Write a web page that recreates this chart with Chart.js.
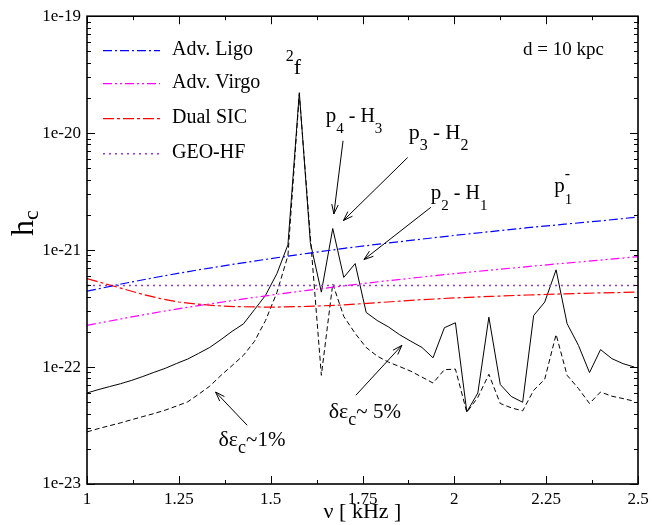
<!DOCTYPE html>
<html><head><meta charset="utf-8">
<script src="https://cdn.jsdelivr.net/npm/chart.js@4.4.1/dist/chart.umd.min.js"></script>
<style>html,body{margin:0;padding:0;background:#fff}#wrap{width:665px;height:525px}</style>
</head><body><div id="wrap"><canvas id="c" width="665" height="525"></canvas></div>
<script>
const SERIF = "'Liberation Serif', 'DejaVu Serif', serif";

// frequency grid of the spectra (kHz)
const freqKHz = [1.000,1.030,1.061,1.091,1.122,1.152,1.182,1.213,1.243,1.274,
                 1.304,1.334,1.365,1.395,1.426,1.456,1.486,1.517,1.547,1.578,
                 1.608,1.638,1.669,1.699,1.730,1.760,1.790,1.821,1.851,1.882,
                 1.912,1.942,1.973,2.003,2.034,2.064,2.094,2.125,2.155,2.186,
                 2.216,2.246,2.277,2.307,2.338,2.368,2.398,2.429,2.459,2.490];
// solid curve (delta eps_c ~ 5%)
const hcDelta5 = [6.0e-23,6.4e-23,6.8e-23,7.2e-23,7.7e-23,8.3e-23,9.0e-23,9.75e-23,1.07e-22,1.17e-22,
                  1.31e-22,1.47e-22,1.72e-22,2.02e-22,2.34e-22,3.1e-22,4.1e-22,6.3e-22,1.11e-21,2.22e-20,
                  1.16e-21,4.37e-22,1.53e-21,5.84e-22,7.67e-22,2.93e-22,2.5e-22,2.2e-22,1.89e-22,1.66e-22,
                  1.47e-22,1.2e-22,2.17e-22,2.39e-22,4.14e-23,6.0e-23,2.67e-22,7.1e-23,5.6e-23,5.0e-23,
                  2.76e-22,3.59e-22,6.78e-22,2.35e-22,1.53e-22,8.97e-23,1.41e-22,1.18e-22,1.07e-22,1.0e-22];
// dashed curve (delta eps_c ~ 1%)
const hcDelta1 = [2.79e-23,2.97e-23,3.15e-23,3.33e-23,3.55e-23,3.77e-23,4.0e-23,4.28e-23,4.63e-23,5.04e-23,
                  5.86e-23,6.86e-23,8.5e-23,1.03e-22,1.26e-22,1.66e-22,2.5e-22,4.34e-22,8.97e-22,2.15e-20,
                  1.3e-21,8.5e-23,5.15e-22,2.71e-22,1.94e-22,1.47e-22,1.24e-22,1.1e-22,1.01e-22,9.2e-23,
                  8.2e-23,7.3e-23,9.5e-23,9.6e-23,4.1e-23,5.5e-23,8.67e-23,4.88e-23,4.48e-23,4.22e-23,
                  6.33e-23,7.86e-23,1.9e-22,8.5e-23,6.55e-23,4.88e-23,6.12e-23,5.63e-23,5.38e-23,5.1e-23];

// detector sensitivity curves
const detFreq  = [1.0,1.1,1.2,1.3,1.4,1.5,1.6,1.7,1.8,1.9,2.0,2.1,2.2,2.3,2.4,2.5];
const advLigo  = [4.45e-22,5.18e-22,5.95e-22,6.75e-22,7.58e-22,8.46e-22,9.37e-22,1.035e-21,1.13e-21,1.23e-21,
                  1.335e-21,1.44e-21,1.555e-21,1.665e-21,1.78e-21,1.92e-21];
const advVirgo = [2.27e-22,2.61e-22,2.97e-22,3.34e-22,3.72e-22,4.12e-22,4.53e-22,4.95e-22,5.39e-22,5.83e-22,
                  6.29e-22,6.75e-22,7.23e-22,7.72e-22,8.22e-22,8.8e-22];
const sicFreq  = [1.0,1.05,1.1,1.15,1.2,1.25,1.3,1.35,1.4,1.5,1.6,1.7,1.8,1.9,2.0,2.1,2.2,2.3,2.4,2.5];
const dualSIC  = [5.7e-22,5.15e-22,4.65e-22,4.2e-22,3.85e-22,3.6e-22,3.45e-22,3.35e-22,3.29e-22,3.25e-22,
                  3.3e-22,3.4e-22,3.57e-22,3.75e-22,3.9e-22,4.02e-22,4.13e-22,4.23e-22,4.31e-22,4.37e-22];
const geoFreq  = [1.0,2.5];
const geoHF    = [4.98e-22,4.98e-22];

const seriesNames = ['Adv. Ligo','Adv. Virgo','Dual SIC','GEO-HF'];
const xTickValues = [1,1.25,1.5,1.75,2,2.25,2.5];
const yTickExps = [-23,-22,-21,-20,-19];

// annotation anchors in data coordinates (nu [kHz], h_c)
const arrows = [
  {from:[1.697,8.6e-21], to:[1.672,2.04e-21]},
  {from:[1.873,6.19e-21], to:[1.698,1.79e-21]},
  {from:[1.936,2.32e-21], to:[1.754,8.3e-22]},
  {from:[1.732,5.74e-23], to:[1.857,1.53e-22]},
  {from:[1.436,3.18e-23], to:[1.350,6.12e-23]}
];
const notes = [
  {at:[1.541,3.20e-20], parts:[['2',16,-13],['f',22,0]]},
  {at:[1.650,1.235e-20], parts:[['p',21,0],['4',15,11],[' - H',20,0],['3',15,11]]},
  {at:[1.876,8.93e-21], parts:[['p',22,0],['3',16,11],[' - H',21,0],['2',16,11]]},
  {at:[1.936,2.75e-21], parts:[['p',21,0],['2',15,11],[' - H',20,0],['1',15,11]]},
  {at:[2.272,3.13e-21], parts:[['p',21,0],['1',15,12,true],['-',16,-13]]},
  {at:[1.658,3.66e-23], parts:[['δε',22,0],['c',18,7],['~ 5%',21,0]]},
  {at:[1.358,2.11e-23], parts:[['δε',22,0],['c',18,7],['~1%',21,0]]},
  {at:[2.187,4.65e-20], parts:[['d = 10 kpc',19,0]]}
];

const pts = (xs, ys) => xs.map((x, i) => ({x: x, y: ys[i]}));

function drawRich(ctx, x, y, parts) {
  let cx = x;
  ctx.textBaseline = 'alphabetic';
  ctx.textAlign = 'left';
  for (const p of parts) {
    ctx.font = p[1] + 'px ' + SERIF;
    ctx.fillText(p[0], cx, y + p[2]);
    if (!p[3]) cx += ctx.measureText(p[0]).width;
  }
}

const decor = {
  id: 'decor',
  afterDatasetsDraw(chart) {
    const ctx = chart.ctx, a = chart.chartArea;
    const xs = chart.scales.x, ys = chart.scales.y;
    ctx.save();
    ctx.strokeStyle = '#000'; ctx.fillStyle = '#000';
    // frame
    ctx.lineWidth = 1.6;
    ctx.strokeRect(a.left, a.top, a.right - a.left, a.bottom - a.top);
    ctx.lineWidth = 1;
    // x ticks (major + minor), bottom and top, inward
    ctx.beginPath();
    for (let i = 0; i < xTickValues.length; i++) {
      const v = xTickValues[i];
      const px = Math.round(xs.getPixelForValue(v)) + 0.5;
      ctx.moveTo(px, a.bottom); ctx.lineTo(px, a.bottom - 8);
      ctx.moveTo(px, a.top); ctx.lineTo(px, a.top + 8);
      if (i < xTickValues.length - 1) {
        const m = Math.round(xs.getPixelForValue((v + xTickValues[i + 1]) / 2)) + 0.5;
        ctx.moveTo(m, a.bottom); ctx.lineTo(m, a.bottom - 4);
        ctx.moveTo(m, a.top); ctx.lineTo(m, a.top + 4);
      }
    }
    // y ticks
    for (const e of yTickExps) {
      const py = Math.round(ys.getPixelForValue(Math.pow(10, e))) + 0.5;
      ctx.moveTo(a.left, py); ctx.lineTo(a.left + 8, py);
      ctx.moveTo(a.right, py); ctx.lineTo(a.right - 8, py);
      if (e < yTickExps[yTickExps.length - 1]) {
        for (let m = 2; m <= 9; m++) {
          const q = Math.round(ys.getPixelForValue(m * Math.pow(10, e))) + 0.5;
          ctx.moveTo(a.left, q); ctx.lineTo(a.left + 4, q);
          ctx.moveTo(a.right, q); ctx.lineTo(a.right - 4, q);
        }
      }
    }
    ctx.stroke();

    // legend
    const rows = [34, 67, 102, 137];
    chart.data.datasets.forEach((ds, i) => {
      if (i >= 4) return;
      const y = a.top + rows[i] + 0.5;
      ctx.save();
      ctx.strokeStyle = ds.borderColor; ctx.lineWidth = ds.borderWidth;
      ctx.setLineDash(ds.borderDash || []);
      ctx.beginPath(); ctx.moveTo(a.left + 16, y); ctx.lineTo(a.left + 73, y); ctx.stroke();
      ctx.restore();
      ctx.font = '20px ' + SERIF; ctx.textBaseline = 'middle'; ctx.textAlign = 'left';
      ctx.fillText(ds.label, a.left + 85, y - 1);
    });

    // arrows
    ctx.lineWidth = 1;
    for (const ar of arrows) {
      const x1 = xs.getPixelForValue(ar.from[0]), y1 = ys.getPixelForValue(ar.from[1]);
      const x2 = xs.getPixelForValue(ar.to[0]), y2 = ys.getPixelForValue(ar.to[1]);
      const ang = Math.atan2(y2 - y1, x2 - x1), L = 10, w = 0.33;
      ctx.beginPath();
      ctx.moveTo(x1, y1); ctx.lineTo(x2, y2);
      ctx.moveTo(x2 - L * Math.cos(ang - w), y2 - L * Math.sin(ang - w));
      ctx.lineTo(x2, y2);
      ctx.lineTo(x2 - L * Math.cos(ang + w), y2 - L * Math.sin(ang + w));
      ctx.stroke();
    }
    // text notes
    for (const n of notes) {
      drawRich(ctx, xs.getPixelForValue(n.at[0]), ys.getPixelForValue(n.at[1]), n.parts);
    }
    // y-axis title h_c (rotated)
    ctx.save();
    ctx.translate(33, 236);
    ctx.rotate(-Math.PI / 2);
    drawRich(ctx, 0, 0, [['h', 32, 0], ['c', 22, 5]]);
    ctx.restore();
    ctx.restore();
  }
};

new Chart(document.getElementById('c'), {
  type: 'line',
  data: {
    datasets: [
      {label: seriesNames[0], data: pts(detFreq, advLigo), borderColor: '#0000ff', borderWidth: 1.2, borderDash: [9,3,2,3]},
      {label: seriesNames[1], data: pts(detFreq, advVirgo), borderColor: '#ff00ff', borderWidth: 1.2, borderDash: [9,3,2,3,2,3]},
      {label: seriesNames[2], data: pts(sicFreq, dualSIC), borderColor: '#ff0000', borderWidth: 1.2, borderDash: [11,3,3,3]},
      {label: seriesNames[3], data: pts(geoFreq, geoHF), borderColor: '#8a3fd0', borderWidth: 1.5, borderDash: [2,4]},
      {label: 'δε_c ~ 5%', data: pts(freqKHz, hcDelta5), borderColor: '#000', borderWidth: 1},
      {label: 'δε_c ~ 1%', data: pts(freqKHz, hcDelta1), borderColor: '#000', borderWidth: 1, borderDash: [5,3]}
    ]
  },
  options: {
    responsive: false, animation: false, devicePixelRatio: 1,
    elements: {point: {radius: 0}, line: {tension: 0, fill: false}},
    layout: {padding: {left: 0, right: 27, top: 15, bottom: 0}},
    plugins: {legend: {display: false}, tooltip: {enabled: false}},
    scales: {
      x: {
        type: 'linear', min: 1, max: 2.5,
        afterFit(s) { s.height = 41; },
        grid: {display: false, drawTicks: false}, border: {display: false},
        afterBuildTicks(s) { s.ticks = xTickValues.map(v => ({value: v})); },
        ticks: {color: '#000', font: {family: SERIF, size: 17}, padding: 5, maxRotation: 0, autoSkip: false,
                callback: v => String(+Number(v).toFixed(2))},
        title: {display: true, text: 'ν [ kHz ]', color: '#000', font: {family: SERIF, size: 22}, padding: {top: 0, bottom: 0}}
      },
      y: {
        type: 'logarithmic', min: 1e-23, max: 1e-19,
        afterFit(s) { s.width = 87; },
        grid: {display: false, drawTicks: false}, border: {display: false},
        afterBuildTicks(s) { s.ticks = yTickExps.map(e => ({value: Math.pow(10, e)})); },
        ticks: {color: '#000', font: {family: SERIF, size: 17}, padding: 6, autoSkip: false,
                callback: v => '1e' + Math.round(Math.log10(v))}
      }
    }
  },
  plugins: [decor]
});
</script></body></html>
